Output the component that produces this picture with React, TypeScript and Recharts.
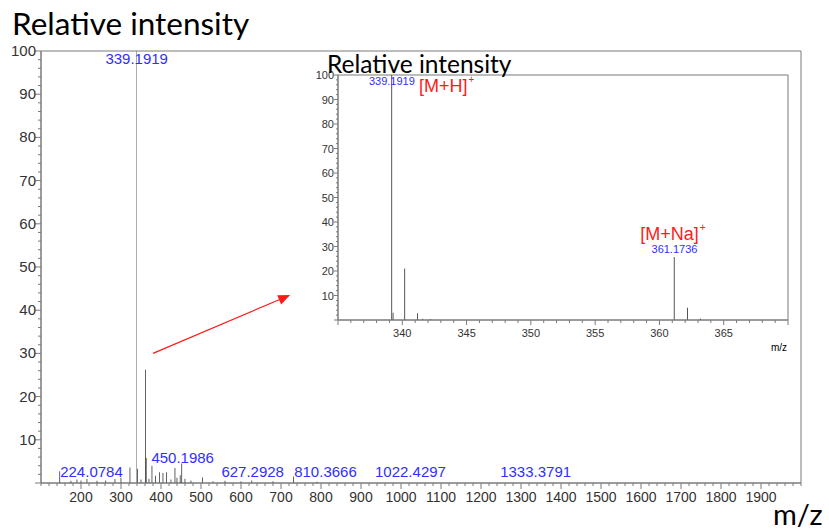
import React from "react";
import { BarChart, Bar, XAxis, YAxis, Cell, ReferenceArea, ReferenceDot, ReferenceLine } from "recharts";

// full scan spectrum
const mainMz = [147, 175, 190, 200, 215, 240, 262, 285, 300, 322.5, 339.19, 341.5, 350, 361.17, 363, 370, 377.5, 386, 396, 405, 414, 425, 435, 440, 448, 452, 460, 475, 504, 530, 560, 600, 627, 680, 731, 790];
const mainIntensity = [2.7, 0.5, 0.8, 0.6, 0.9, 0.5, 0.6, 0.9, 1.2, 3.6, 100, 3.3, 0.8, 26.2, 5.8, 1.0, 4.0, 1.7, 2.5, 2.3, 2.5, 0.8, 3.5, 1.2, 1.8, 4.5, 1.0, 0.6, 1.3, 0.4, 0.5, 0.4, 0.6, 0.4, 1.5, 0.3];

// zoomed region 335-370
const insetMz = [339.19, 339.3, 340.2, 341.2, 341.6, 342.2, 361.17, 362.2, 363.2];
const insetIntensity = [100, 3, 21, 2.8, 0.5, 0.4, 25.7, 5, 0.6];

const mainXTicks = Array.from({ length: 96 }, (_, i) => 100 + i * 20);
const mainYTicks = Array.from({ length: 51 }, (_, i) => i * 2);
const insetXTicks = Array.from({ length: 36 }, (_, i) => 335 + i);
const insetYTicks = Array.from({ length: 51 }, (_, i) => i * 2);

// peak labels: text, m/z it hangs on, level of text baseline
const mainLabels = [
  { text: "224.0784", mz: 148, level: 1.3 },
  { text: "450.1986", mz: 376, level: 4.6 },
  { text: "627.2928", mz: 551, level: 1.3 },
  { text: "810.3666", mz: 733, level: 1.3 },
  { text: "1022.4297", mz: 935, level: 1.3 },
  { text: "1333.3791", mz: 1248, level: 1.3 },
];

const mainData = mainMz.map((mz, i) => ({ mz, intensity: mainIntensity[i] }));
const insetData = insetMz.map((mz, i) => ({ mz, intensity: insetIntensity[i] }));

const AXIS = "#7a7a7a";
const BLUE = "#2f2fff";
const RED = "#ff1a1a";
const NUM_FONT = "'Liberation Sans', Arial, sans-serif";
const TITLE_FONT = "Lato, 'Open Sans', sans-serif";

const MainXTick = (p: any) => {
  const v = p.payload.value;
  const major = v % 100 === 0 && v >= 200 && v <= 1900;
  return (
    <g>
      <line x1={p.x} x2={p.x} y1={p.y} y2={p.y + (major ? 6 : 3)} stroke={AXIS} />
      {major && (
        <text x={p.x} y={p.y + 19} textAnchor="middle" fontSize={14} fill="#333" fontFamily={NUM_FONT}>
          {v}
        </text>
      )}
    </g>
  );
};

const MainYTick = (p: any) => {
  const v = p.payload.value;
  const major = v % 10 === 0;
  return (
    <g>
      <line x1={p.x} x2={p.x - (major ? 6 : 3)} y1={p.y} y2={p.y} stroke={AXIS} />
      {major && v > 0 && (
        <text x={p.x - 5} y={p.y + 5} textAnchor="end" fontSize={15} fill="#333" fontFamily={NUM_FONT}>
          {v}
        </text>
      )}
    </g>
  );
};

const InsetXTick = (p: any) => {
  const v = p.payload.value;
  const major = v % 5 === 0;
  return (
    <g>
      <line x1={p.x} x2={p.x} y1={p.y} y2={p.y + (major ? 5 : 3)} stroke={AXIS} />
      {major && v > 335 && v < 370 && (
        <text x={p.x} y={p.y + 17} textAnchor="middle" fontSize={11} fill="#333" fontFamily={NUM_FONT}>
          {v}
        </text>
      )}
    </g>
  );
};

const InsetYTick = (p: any) => {
  const v = p.payload.value;
  const major = v % 10 === 0;
  return (
    <g>
      <line x1={p.x} x2={p.x - (major ? 4 : 2)} y1={p.y} y2={p.y} stroke={AXIS} />
      {major && v > 0 && (
        <text x={p.x - 4} y={p.y + 4} textAnchor="end" fontSize={11} fill="#333" fontFamily={NUM_FONT}>
          {v}
        </text>
      )}
    </g>
  );
};

const Arrow = (p: any) => {
  const { x1, y1, x2, y2 } = p;
  const a = Math.atan2(y2 - y1, x2 - x1);
  const len = 12;
  const w = 5;
  const bx = x2 - len * Math.cos(a);
  const by = y2 - len * Math.sin(a);
  const pts = [
    [x2, y2],
    [bx + w * Math.sin(a), by - w * Math.cos(a)],
    [bx - w * Math.sin(a), by + w * Math.cos(a)],
  ];
  return (
    <g>
      <line x1={x1} y1={y1} x2={bx} y2={by} stroke={RED} strokeWidth={1.2} />
      <polygon points={pts.map((q) => q.join(",")).join(" ")} fill={RED} />
    </g>
  );
};

const App = () => {
  return (
    <div style={{ position: "absolute", left: 0, top: 0, width: 829, height: 530, background: "#fff" }}>
      <div style={{ position: "absolute", left: 0, top: 0 }}>
        <BarChart width={829} height={530} data={mainData} margin={{ top: 51, right: 28, bottom: 0, left: 0 }}>
          <XAxis
            dataKey="mz"
            type="number"
            domain={[100, 2000]}
            ticks={mainXTicks}
            interval={0}
            height={47}
            tickSize={0}
            tickMargin={0}
            tickLine={false}
            tick={(p: any) => <MainXTick {...p} />}
            stroke={AXIS}
            allowDataOverflow
          />
          <YAxis
            type="number"
            domain={[0, 100]}
            ticks={mainYTicks}
            interval={0}
            width={41}
            tickSize={0}
            tickMargin={0}
            tickLine={false}
            tick={(p: any) => <MainYTick {...p} />}
            stroke={AXIS}
            allowDataOverflow
          />
          <ReferenceArea x1={100} x2={2000} y1={0} y2={100} fill="none" stroke={AXIS} />
          <Bar dataKey="intensity" barSize={1} isAnimationActive={false}>
            {mainData.map((d, i) => (
              <Cell key={i} fill={d.intensity >= 99 ? "#808080" : "#111"} />
            ))}
          </Bar>
          <ReferenceDot
            x={339.19}
            y={100}
            r={0}
            shape={(p: any) => (
              <text x={p.cx} y={p.cy + 13} textAnchor="middle" fontSize={15} fill={BLUE} fontFamily={NUM_FONT}>
                339.1919
              </text>
            )}
          />
          {mainLabels.map((l) => (
            <ReferenceDot
              key={l.text}
              x={l.mz}
              y={l.level}
              r={0}
              shape={(p: any) => (
                <text x={p.cx} y={p.cy} textAnchor="start" fontSize={15} fill={BLUE} fontFamily={NUM_FONT}>
                  {l.text}
                </text>
              )}
            />
          ))}
          <ReferenceLine
            segment={[
              { x: 380, y: 30 },
              { x: 723, y: 43.5 },
            ]}
            shape={(p: any) => <Arrow {...p} />}
          />
        </BarChart>
      </div>

      <div style={{ position: "absolute", left: 298, top: 60 }}>
        <BarChart width={500} height={300} data={insetData} margin={{ top: 15, right: 10, bottom: 0, left: 0 }}>
          <XAxis
            dataKey="mz"
            type="number"
            domain={[335, 370]}
            ticks={insetXTicks}
            interval={0}
            height={40}
            tickSize={0}
            tickMargin={0}
            tickLine={false}
            tick={(p: any) => <InsetXTick {...p} />}
            stroke={AXIS}
            allowDataOverflow
          />
          <YAxis
            type="number"
            domain={[0, 100]}
            ticks={insetYTicks}
            interval={0}
            width={40}
            tickSize={0}
            tickMargin={0}
            tickLine={false}
            tick={(p: any) => <InsetYTick {...p} />}
            stroke={AXIS}
            allowDataOverflow
          />
          <ReferenceArea x1={335} x2={370} y1={0} y2={100} fill="none" stroke={AXIS} />
          <Bar dataKey="intensity" barSize={1} fill="#555" isAnimationActive={false} />
          <ReferenceDot
            x={339.19}
            y={100}
            r={0}
            shape={(p: any) => (
              <text x={p.cx} y={p.cy + 10} textAnchor="middle" fontSize={11} fill={BLUE} fontFamily={NUM_FONT}>
                339.1919
              </text>
            )}
          />
          <ReferenceDot
            x={341.3}
            y={93}
            r={0}
            shape={(p: any) => (
              <text x={p.cx} y={p.cy} fontSize={18} fill={RED} fontFamily={NUM_FONT}>
                [M+H]<tspan dx={1} dy={-9} fontSize={10}>+</tspan>
              </text>
            )}
          />
          <ReferenceDot
            x={358.5}
            y={32.6}
            r={0}
            shape={(p: any) => (
              <text x={p.cx} y={p.cy} fontSize={18} fill={RED} fontFamily={NUM_FONT}>
                [M+Na]<tspan dx={1} dy={-9} fontSize={10}>+</tspan>
              </text>
            )}
          />
          <ReferenceDot
            x={361.17}
            y={26.5}
            r={0}
            shape={(p: any) => (
              <text x={p.cx} y={p.cy - 2} textAnchor="middle" fontSize={11} fill={BLUE} fontFamily={NUM_FONT}>
                361.1736
              </text>
            )}
          />
        </BarChart>
      </div>

      <svg width={829} height={530} style={{ position: "absolute", left: 0, top: 0, pointerEvents: "none" }}>
        <text x={12} y={35} fontSize={31.5} fill="#000" fontFamily={TITLE_FONT}>
          Relative intensity
        </text>
        <text x={327} y={73} fontSize={24.5} fill="#000" fontFamily={TITLE_FONT}>
          Relative intensity
        </text>
        <text x={773} y={525} fontSize={29} fill="#000" fontFamily={TITLE_FONT}>
          m/z
        </text>
        <text x={771} y={351} fontSize={10} fill="#000" fontFamily={NUM_FONT}>
          m/z
        </text>
      </svg>
    </div>
  );
};

export default App;
